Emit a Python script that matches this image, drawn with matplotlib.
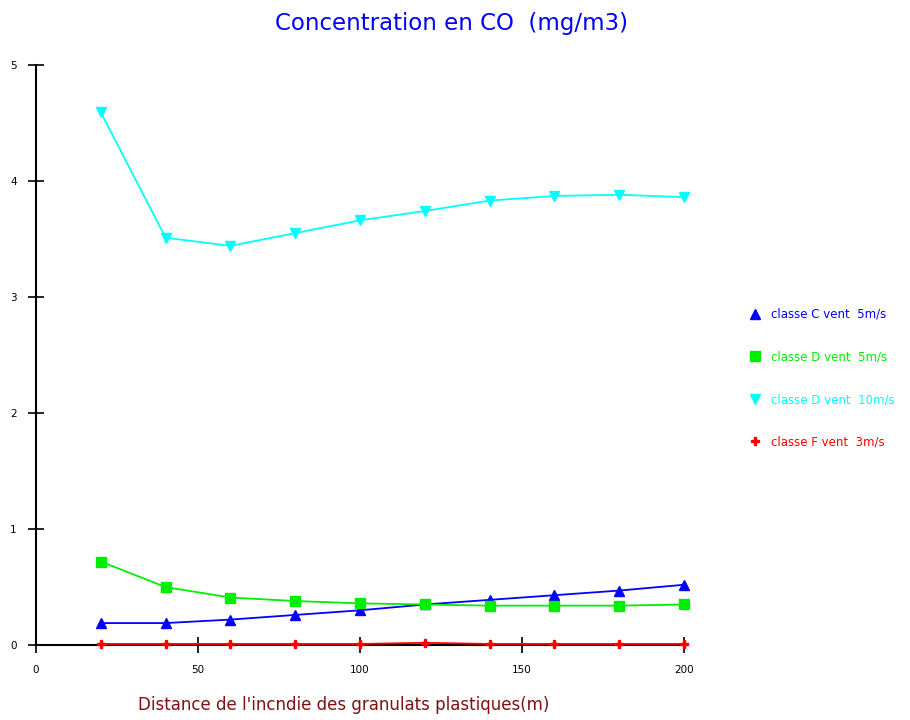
import matplotlib.pyplot as plt
from matplotlib.lines import Line2D

# distances (m)
distance = [20, 40, 60, 80, 100, 120, 140, 160, 180, 200]

# CO concentrations (mg/m3)
classe_c_5 = [0.19, 0.19, 0.22, 0.26, 0.30, 0.35, 0.39, 0.43, 0.47, 0.52]
classe_d_5 = [0.72, 0.50, 0.41, 0.38, 0.36, 0.35, 0.34, 0.34, 0.34, 0.35]
classe_d_10 = [4.59, 3.51, 3.44, 3.55, 3.66, 3.74, 3.83, 3.87, 3.88, 3.86]
classe_f_3 = [0.01, 0.01, 0.01, 0.01, 0.01, 0.02, 0.01, 0.01, 0.01, 0.01]

labels = ["classe C vent  5m/s", "classe D vent  5m/s",
          "classe D vent  10m/s", "classe F vent  3m/s"]
x_ticks = [0, 50, 100, 150, 200]
y_ticks = [0, 1, 2, 3, 4, 5]

fig = plt.figure(figsize=(9.1, 7.2), dpi=100)
ax = fig.add_axes([0.0396, 0.104, 0.712, 0.806])

series = [
    (classe_c_5, 'blue', '^', 6.5),
    (classe_d_5, '#00ee00', 's', 6.5),
    (classe_d_10, 'cyan', 'v', 6.5),
    (classe_f_3, 'red', 'P', 5.5),
]
for vals, col, mk, ms in series:
    ax.plot(distance, vals, color=col, marker=mk, markersize=ms, linewidth=1.3,
            clip_on=False, zorder=3)

ax.set_xlim(0, 200)
ax.set_ylim(0, 5)
ax.set_xticks(x_ticks)
ax.set_yticks(y_ticks)
ax.spines['top'].set_visible(False)
ax.spines['right'].set_visible(False)
ax.spines['left'].set_linewidth(1.5)
ax.spines['bottom'].set_linewidth(1.5)
ax.tick_params(direction='inout', length=12, width=1.2, labelsize=7.5, pad=8, colors='black')

handles = [Line2D([], [], marker=mk, color=col, linestyle='none', markersize=ms)
           for _, col, mk, ms in series]
leg = fig.legend(handles=handles, labels=labels, loc='upper left',
                 bbox_to_anchor=(0.811, 0.587), frameon=False, fontsize=8.5,
                 labelspacing=2.5, handletextpad=0.9, handlelength=1.0,
                 labelcolor=[c for _, c, _, _ in series])

fig.text(0.496, 0.968, "Concentration en CO  (mg/m3)", ha='center', va='center',
         fontsize=16.5, color='blue')
fig.text(0.378, 0.021, "Distance de l'incndie des granulats plastiques(m)",
         ha='center', va='center', fontsize=12, color='#801010')

fig.savefig("out.png", dpi=100)
